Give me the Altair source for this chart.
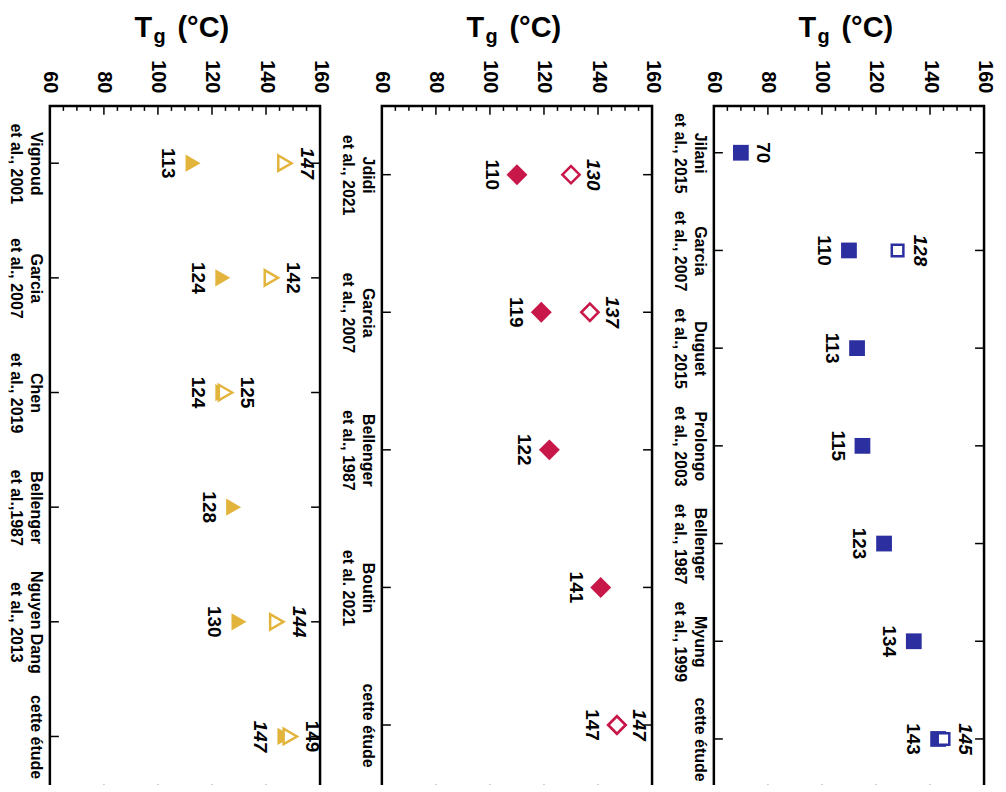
import altair as alt
import pandas as pd

FONT = "Liberation Sans"
W, H = 271, 690

# ---------------- data ----------------
p1_cats = ["Vignoud\net al., 2001", "Garcia\net al., 2007", "Chen\net al., 2019",
           "Bellenger\net al.,1987", "Nguyen Dang\net al., 2013", "cette étude"]
p1_filled = [113, 124, 124, 128, 130, 147]
p1_open = [147, 142, 125, None, 144, 149]

p2_cats = ["Jdidi\net al., 2021", "Garcia\net al., 2007", "Bellenger\net al., 1987",
           "Boutin\net al. 2021", "cette étude"]
p2_filled = [110, 119, 122, 141, 147]
p2_open = [130, 137, None, None, 147]

p3_cats = ["Jilani\net al., 2015", "Garcia\net al., 2007", "Duguet\net al., 2015",
           "Prolongo\net al., 2003", "Bellenger\net al., 1987", "Myung\net al., 1999",
           "cette étude"]
p3_filled = [70, 110, 113, 115, 123, 134, 143]
p3_open = [None, 128, None, None, None, None, 145]

major_ticks = [60, 80, 100, 120, 140, 160]
minor_ticks = [65, 70, 75, 85, 90, 95, 105, 110, 115, 125, 130, 135, 145, 150, 155]

# label styling per panel (side of filled labels, italic flags)
p1_filled_side = ["left"] * 6
p1_filled_italic = [False, False, False, False, False, True]
p1_open_italic = [True, False, False, False, True, False]

p2_filled_side = ["left"] * 5
p2_filled_italic = [False] * 5
p2_open_italic = [True] * 5

p3_filled_side = ["right", "left", "left", "left", "left", "left", "left"]
p3_filled_italic = [False] * 7
p3_open_italic = [True] * 7

BLUE = "#2b2f9f"
RED = "#c8184a"
GOLD = "#e3b43c"


def xenc(field):
    return alt.X(
        f"{field}:Q",
        scale=alt.Scale(domain=[60, 160], nice=False, zero=False),
        axis=alt.Axis(orient="top", values=major_ticks, labelAngle=90, labelAlign="right",
                      labelBaseline="middle", labelFontSize=20, labelFontWeight="bold",
                      labelFont=FONT, labelColor="black", labelPadding=13, ticks=False,
                      domain=False, grid=False, title=None, labelFlush=False,
                      labelOverlap=False),
    )


def yenc(cats, yscale):
    return alt.Y(
        "cat:N",
        sort=cats,
        scale=yscale,
        axis=alt.Axis(labelAngle=90, labelAlign="center", labelBaseline="top",
                      labelExpr="split(datum.label, '\\n')", labelFontSize=16,
                      labelFontWeight="bold", labelLineHeight=20, labelPadding=6,
                      labelFont=FONT, labelColor="black", ticks=False, domain=False,
                      grid=False, title=None, labelOverlap=False),
    )


def panel(cats, filled, opened, fside, fital, oital, color, shape, fsize, osize, yscale):
    rows = []
    for c, f, o, fs, fi, oi in zip(cats, filled, opened, fside, fital, oital):
        if f is not None:
            rows.append(dict(cat=c, v=f, kind="filled", side=fs, ital=fi))
        if o is not None:
            rows.append(dict(cat=c, v=o, kind="open", side="right", ital=oi))
    df = pd.DataFrame(rows)
    df["lab"] = df["v"].astype(int).astype(str)

    major_df = pd.DataFrame({"t": major_ticks})
    minor_df = pd.DataFrame({"t": minor_ticks})
    cat_df = pd.DataFrame({"cat": cats})
    tdata = pd.DataFrame({"a": [1]})

    layers = []
    # plot frame
    layers.append(alt.Chart(tdata).mark_rect(fillOpacity=0, stroke="black",
                                             strokeWidth=2.5).encode(
        x=alt.value(0), x2=alt.value(W), y=alt.value(0), y2=alt.value(H)))
    # x-ticks (inward) on top and bottom edges
    layers.append(alt.Chart(major_df).mark_rule(color="black", strokeWidth=1.5).encode(
        x=xenc("t"), y=alt.value(0), y2=alt.value(9)))
    layers.append(alt.Chart(major_df).mark_rule(color="black", strokeWidth=1.5).encode(
        x=xenc("t"), y=alt.value(H), y2=alt.value(H - 9)))
    layers.append(alt.Chart(minor_df).mark_rule(color="black", strokeWidth=1.5).encode(
        x=xenc("t"), y=alt.value(0), y2=alt.value(5)))
    layers.append(alt.Chart(minor_df).mark_rule(color="black", strokeWidth=1.5).encode(
        x=xenc("t"), y=alt.value(H), y2=alt.value(H - 5)))
    # category ticks on left and right edges
    layers.append(alt.Chart(cat_df).mark_rule(color="black", strokeWidth=1.5).encode(
        y=yenc(cats, yscale), x=alt.value(0), x2=alt.value(9)))
    layers.append(alt.Chart(cat_df).mark_rule(color="black", strokeWidth=1.5).encode(
        y=yenc(cats, yscale), x=alt.value(W), x2=alt.value(W - 9)))

    # markers
    fdf = df[df.kind == "filled"]
    odf = df[df.kind == "open"]
    layers.append(alt.Chart(fdf).mark_point(shape=shape, filled=True, color=color,
                                            size=fsize, opacity=1).encode(
        x=xenc("v"), y=yenc(cats, yscale)))
    layers.append(alt.Chart(odf).mark_point(shape=shape, filled=True, fill="white",
                                            stroke=color, strokeWidth=2.5, size=osize,
                                            opacity=1).encode(
        x=xenc("v"), y=yenc(cats, yscale)))

    # value labels
    for side in ["left", "right"]:
        for ital in [False, True]:
            sub = df[(df.side == side) & (df.ital == ital)]
            if len(sub) == 0:
                continue
            layers.append(alt.Chart(sub).mark_text(
                angle=90, align="center", baseline="middle", fontSize=19,
                fontWeight="bold", font=FONT, color="black",
                fontStyle="italic" if ital else "normal",
                dy=25 if side == "left" else -22).encode(
                x=xenc("v"), y=yenc(cats, yscale), text="lab:N"))

    # title "Tg (°C)"
    layers.append(alt.Chart(tdata).mark_text(
        text="T", align="left", baseline="alphabetic", fontSize=29, fontWeight="bold",
        font=FONT, color="black").encode(x=alt.value(85), y=alt.value(-69)))
    layers.append(alt.Chart(tdata).mark_text(
        text="g", align="left", baseline="alphabetic", fontSize=20, fontWeight="bold",
        font=FONT, color="black").encode(x=alt.value(104), y=alt.value(-63)))
    layers.append(alt.Chart(tdata).mark_text(
        text="(°C)", align="left", baseline="alphabetic", fontSize=29, fontWeight="bold",
        font=FONT, color="black").encode(x=alt.value(128), y=alt.value(-69)))

    return alt.layer(*layers).properties(width=W, height=H)


s1 = alt.Scale(type="point", domain=p1_cats, padding=0.5)
s2 = alt.Scale(type="point", domain=p2_cats, padding=0.5)
s3 = alt.Scale(type="point", domain=p3_cats, padding=0, range=[47, 635])

c1 = panel(p1_cats, p1_filled, p1_open, p1_filled_side, p1_filled_italic, p1_open_italic,
           GOLD, "triangle-right", 300, 240, s1)
c2 = panel(p2_cats, p2_filled, p2_open, p2_filled_side, p2_filled_italic, p2_open_italic,
           RED, "diamond", 440, 300, s2)
c3 = panel(p3_cats, p3_filled, p3_open, p3_filled_side, p3_filled_italic, p3_open_italic,
           BLUE, "square", 250, 135, s3)

chart = alt.hconcat(c1, c2, c3, spacing=62, bounds="flush").properties(
    padding={"left": 0, "top": 5, "right": 4, "bottom": -12}
).configure_view(stroke=None, strokeWidth=0)

chart.save("out.html", embed_options={"renderer": "svg", "actions": False})
